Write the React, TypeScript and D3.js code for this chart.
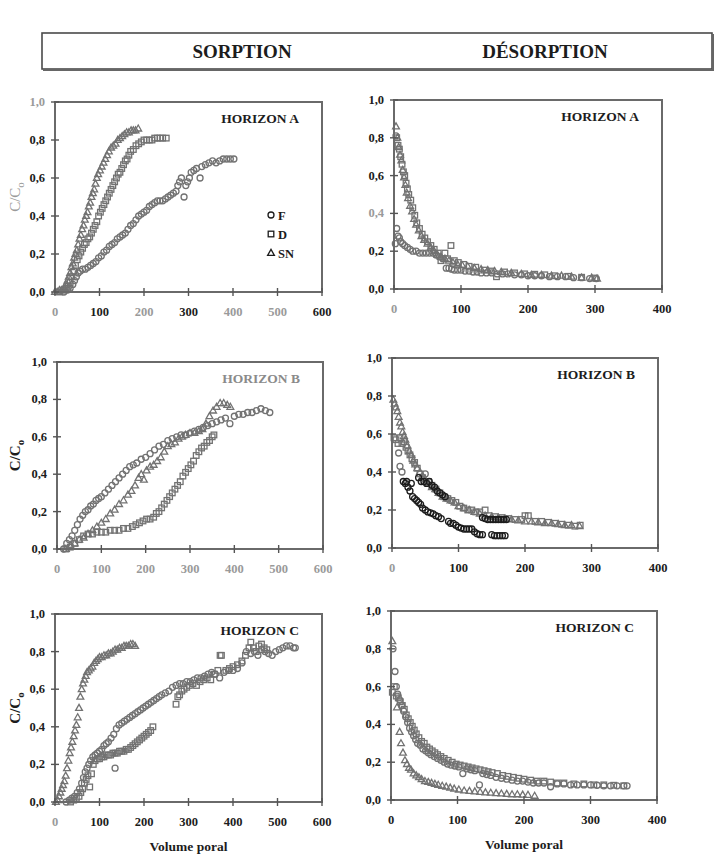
import React from "react";
import * as d3 from "d3";

type Pt = [number, number];

// x = volume poral, y = C/C0

// ---- SORPTION, horizon A ----
const sorpA_F: Pt[] = [[20,0],[28,0.01],[34,0.02],[40,0.04],[44,0.06],[48,0.08],[52,0.1],[57,0.11],[62,0.12],[68,0.12],[74,0.13],[80,0.14],[86,0.15],[92,0.16],[98,0.18],[104,0.19],[110,0.21],[116,0.22],[122,0.24],[128,0.25],[134,0.26],[140,0.28],[146,0.29],[152,0.3],[158,0.31],[164,0.33],[170,0.35],[176,0.36],[182,0.38],[188,0.4],[194,0.41],[200,0.42],[206,0.43],[212,0.45],[218,0.46],[224,0.47],[230,0.48],[236,0.48],[242,0.48],[248,0.49],[254,0.5],[260,0.51],[266,0.52],[272,0.53],[276,0.56],[280,0.58],[284,0.6],[290,0.5],[294,0.56],[298,0.58],[302,0.6],[306,0.63],[312,0.64],[318,0.65],[326,0.6],[330,0.66],[338,0.67],[346,0.68],[354,0.69],[362,0.68],[370,0.69],[378,0.7],[386,0.7],[394,0.7],[402,0.7]];
const sorpA_D: Pt[] = [[10,0],[18,0.01],[25,0.02],[30,0.03],[34,0.05],[38,0.08],[42,0.11],[46,0.14],[50,0.17],[54,0.19],[58,0.21],[62,0.23],[66,0.25],[70,0.26],[74,0.28],[78,0.29],[82,0.31],[86,0.33],[90,0.35],[94,0.37],[98,0.4],[102,0.42],[106,0.44],[110,0.46],[114,0.48],[118,0.5],[122,0.52],[126,0.54],[130,0.56],[134,0.58],[138,0.6],[142,0.62],[146,0.63],[150,0.65],[154,0.67],[158,0.69],[162,0.7],[166,0.72],[170,0.74],[176,0.75],[182,0.77],[188,0.78],[194,0.79],[200,0.8],[206,0.8],[212,0.8],[218,0.8],[224,0.81],[230,0.81],[236,0.81],[242,0.81],[250,0.81]];
const sorpA_SN: Pt[] = [[0,0],[5,0],[10,0.01],[15,0.01],[20,0.02],[25,0.04],[28,0.06],[31,0.08],[34,0.1],[37,0.13],[40,0.15],[43,0.18],[46,0.2],[49,0.22],[52,0.25],[55,0.28],[58,0.3],[61,0.33],[64,0.35],[67,0.38],[70,0.4],[73,0.42],[76,0.45],[79,0.47],[82,0.5],[85,0.52],[88,0.54],[91,0.57],[94,0.6],[97,0.62],[101,0.64],[105,0.66],[109,0.68],[113,0.7],[117,0.72],[121,0.74],[126,0.76],[131,0.77],[136,0.78],[141,0.8],[146,0.81],[151,0.82],[156,0.83],[161,0.84],[166,0.84],[171,0.85],[176,0.85],[181,0.85],[187,0.86]];

// ---- DESORPTION, horizon A ----
const desA_F: Pt[] = [[2,0.24],[3,0.81],[4,0.32],[6,0.28],[8,0.27],[10,0.25],[13,0.24],[16,0.23],[20,0.22],[24,0.21],[28,0.2],[33,0.2],[38,0.19],[43,0.19],[48,0.19],[53,0.19],[58,0.19],[63,0.18],[68,0.17],[73,0.16],[78,0.11],[82,0.11],[86,0.105],[90,0.1],[95,0.1],[100,0.1],[106,0.095],[112,0.095],[118,0.09],[124,0.09],[130,0.085],[138,0.085],[146,0.085],[154,0.08],[162,0.08],[170,0.08],[180,0.075],[190,0.075],[200,0.07],[210,0.07],[220,0.07],[232,0.065],[244,0.065],[256,0.065],[268,0.06],[280,0.06],[292,0.055],[302,0.055]];
const desA_D: Pt[] = [[4,0.8],[6,0.76],[8,0.74],[10,0.7],[12,0.66],[14,0.62],[16,0.6],[18,0.56],[20,0.53],[22,0.5],[25,0.47],[28,0.43],[31,0.39],[34,0.35],[38,0.32],[42,0.29],[46,0.27],[50,0.25],[55,0.23],[60,0.21],[66,0.19],[70,0.15],[76,0.19],[80,0.16],[85,0.23],[90,0.15],[96,0.14],[104,0.13],[112,0.12],[122,0.115],[135,0.1],[145,0.095],[153,0.065],[165,0.09],[180,0.085],[195,0.08],[210,0.078],[225,0.075],[240,0.07],[260,0.067],[280,0.062],[300,0.058]];
const desA_SN: Pt[] = [[3,0.86],[5,0.8],[7,0.75],[9,0.71],[11,0.68],[13,0.63],[15,0.59],[17,0.55],[19,0.51],[21,0.48],[24,0.44],[27,0.41],[30,0.37],[33,0.34],[37,0.31],[41,0.28],[45,0.26],[50,0.24],[55,0.22],[60,0.2],[65,0.18],[70,0.17],[76,0.16],[82,0.15],[88,0.14],[95,0.13],[102,0.125],[110,0.12],[120,0.11],[130,0.105],[140,0.1],[150,0.095],[160,0.09],[175,0.085],[190,0.08],[205,0.075],[220,0.075],[235,0.07],[250,0.07],[265,0.065],[280,0.06],[295,0.06],[303,0.055]];

// ---- SORPTION, horizon B ----
const sorpB_F: Pt[] = [[15,0],[22,0.03],[28,0.05],[34,0.07],[40,0.1],[46,0.13],[52,0.16],[58,0.18],[64,0.2],[70,0.21],[76,0.23],[82,0.24],[88,0.26],[94,0.27],[100,0.28],[108,0.3],[116,0.32],[124,0.34],[132,0.36],[140,0.38],[148,0.4],[156,0.42],[164,0.44],[172,0.45],[180,0.46],[190,0.48],[200,0.49],[210,0.51],[220,0.53],[230,0.55],[240,0.56],[250,0.58],[260,0.59],[270,0.6],[280,0.61],[290,0.61],[300,0.62],[310,0.63],[320,0.64],[330,0.65],[340,0.66],[350,0.67],[360,0.68],[370,0.69],[380,0.7],[390,0.67],[400,0.71],[410,0.72],[420,0.72],[430,0.73],[440,0.73],[450,0.74],[460,0.75],[470,0.74],[480,0.73]];
const sorpB_D: Pt[] = [[20,0],[30,0.01],[40,0.03],[50,0.05],[60,0.07],[70,0.08],[80,0.08],[90,0.09],[100,0.09],[110,0.09],[120,0.1],[130,0.1],[140,0.1],[150,0.11],[160,0.11],[170,0.12],[178,0.13],[186,0.14],[194,0.15],[202,0.16],[210,0.16],[218,0.17],[224,0.19],[230,0.2],[236,0.22],[242,0.24],[248,0.26],[254,0.28],[260,0.3],[266,0.32],[272,0.34],[278,0.36],[284,0.39],[290,0.41],[296,0.43],[302,0.45],[308,0.47],[314,0.5],[320,0.52],[326,0.54],[332,0.55],[338,0.57],[344,0.58],[350,0.6],[354,0.61]];
const sorpB_SN: Pt[] = [[20,0],[30,0.02],[40,0.03],[50,0.05],[60,0.06],[70,0.08],[80,0.1],[90,0.12],[100,0.14],[110,0.16],[120,0.19],[130,0.21],[140,0.24],[150,0.26],[160,0.29],[168,0.31],[176,0.34],[184,0.38],[190,0.4],[196,0.37],[202,0.42],[210,0.44],[218,0.45],[226,0.47],[234,0.49],[242,0.52],[250,0.55],[258,0.56],[266,0.57],[274,0.59],[282,0.6],[290,0.61],[300,0.62],[310,0.62],[320,0.63],[328,0.64],[336,0.67],[344,0.71],[352,0.74],[360,0.76],[368,0.78],[376,0.78],[384,0.77],[391,0.76]];

// ---- DESORPTION, horizon B ----
const desB_F: Pt[] = [[10,0.5],[12,0.43],[15,0.4],[50,0.39]];
const desB_Fdark: Pt[] = [[17,0.35],[20,0.34],[22,0.35],[24,0.32],[27,0.3],[29,0.34],[31,0.27],[34,0.26],[37,0.25],[40,0.24],[43,0.23],[46,0.21],[50,0.2],[54,0.19],[58,0.185],[62,0.18],[66,0.17],[70,0.165],[74,0.155],[85,0.14],[88,0.13],[92,0.13],[96,0.12],[100,0.11],[104,0.105],[108,0.1],[112,0.1],[116,0.1],[120,0.1],[124,0.085],[128,0.075],[132,0.07],[136,0.07],[150,0.07],[154,0.065],[158,0.065],[162,0.065],[166,0.065],[170,0.065],[40,0.37],[44,0.35],[48,0.35],[52,0.34],[56,0.35],[60,0.33],[64,0.32],[68,0.3],[72,0.29],[76,0.28],[80,0.27],[136,0.16],[140,0.155],[144,0.15],[148,0.15],[152,0.15],[156,0.15],[160,0.15],[164,0.15],[168,0.15],[172,0.15]];
const desB_D: Pt[] = [[3,0.58],[6,0.57],[9,0.55],[12,0.58],[15,0.55],[18,0.56],[21,0.53],[24,0.51],[27,0.49],[30,0.47],[34,0.45],[38,0.42],[42,0.39],[46,0.37],[55,0.35],[60,0.33],[66,0.31],[72,0.29],[78,0.27],[84,0.26],[90,0.25],[96,0.24],[102,0.22],[108,0.21],[114,0.2],[120,0.2],[126,0.19],[132,0.19],[140,0.2],[146,0.17],[155,0.165],[165,0.16],[175,0.155],[185,0.15],[195,0.15],[200,0.17],[205,0.17],[215,0.14],[225,0.14],[235,0.135],[245,0.13],[255,0.125],[265,0.12],[275,0.115],[283,0.12]];
const desB_SN: Pt[] = [[2,0.78],[4,0.76],[6,0.74],[8,0.72],[10,0.69],[12,0.66],[14,0.64],[16,0.61],[18,0.59],[20,0.57],[23,0.54],[26,0.51],[29,0.49],[32,0.46],[35,0.44],[38,0.42],[42,0.4],[46,0.38],[50,0.36],[55,0.34],[60,0.32],[65,0.31],[70,0.29],[76,0.27],[82,0.26],[88,0.25],[94,0.24],[100,0.22],[108,0.21],[116,0.2],[124,0.19],[132,0.18],[140,0.17],[150,0.165],[160,0.16],[170,0.155],[180,0.15],[190,0.145],[200,0.14],[210,0.14],[220,0.135],[230,0.13],[240,0.13],[250,0.125],[260,0.12],[270,0.12],[282,0.115]];

// ---- SORPTION, horizon C ----
const sorpC_F: Pt[] = [[25,0],[32,0.01],[38,0.02],[44,0.03],[50,0.05],[55,0.07],[60,0.1],[64,0.13],[68,0.16],[72,0.18],[76,0.2],[80,0.22],[85,0.24],[90,0.25],[95,0.26],[100,0.27],[105,0.28],[110,0.3],[115,0.31],[120,0.32],[126,0.34],[132,0.36],[135,0.18],[138,0.39],[144,0.41],[150,0.42],[156,0.43],[162,0.44],[168,0.45],[174,0.46],[180,0.47],[186,0.48],[192,0.49],[198,0.5],[204,0.51],[210,0.52],[216,0.53],[222,0.54],[228,0.55],[234,0.56],[240,0.57],[248,0.58],[256,0.59],[264,0.61],[272,0.62],[280,0.63],[288,0.63],[296,0.64],[304,0.64],[312,0.65],[320,0.66],[328,0.66],[336,0.67],[344,0.68],[352,0.69],[360,0.68],[370,0.66],[380,0.69],[390,0.7],[400,0.7],[410,0.71],[420,0.74],[430,0.8],[440,0.79],[448,0.8],[456,0.78],[464,0.81],[472,0.8],[480,0.79],[488,0.78],[496,0.8],[504,0.81],[512,0.82],[520,0.83],[528,0.83],[536,0.82],[540,0.82]];
const sorpC_D: Pt[] = [[35,0],[42,0.01],[48,0.02],[54,0.03],[58,0.05],[62,0.07],[66,0.1],[70,0.12],[74,0.14],[78,0.08],[82,0.15],[86,0.2],[90,0.22],[95,0.23],[100,0.23],[105,0.24],[110,0.24],[115,0.25],[120,0.25],[125,0.25],[130,0.26],[135,0.26],[140,0.26],[145,0.27],[150,0.27],[155,0.27],[160,0.28],[165,0.28],[170,0.29],[175,0.3],[180,0.31],[185,0.32],[190,0.33],[195,0.34],[200,0.35],[205,0.36],[210,0.37],[215,0.38],[220,0.4],[272,0.52],[276,0.56],[280,0.57],[285,0.59],[290,0.6],[296,0.61],[302,0.62],[310,0.63],[318,0.62],[326,0.64],[334,0.65],[342,0.66],[350,0.65],[358,0.68],[366,0.7],[371,0.78],[374,0.78],[384,0.7],[392,0.71],[400,0.72],[410,0.73],[420,0.75],[428,0.78],[436,0.82],[440,0.85],[446,0.82],[452,0.8],[458,0.83],[464,0.84],[470,0.82],[476,0.81]];
const sorpC_SN: Pt[] = [[2,0],[6,0.01],[9,0.03],[12,0.05],[15,0.07],[18,0.09],[21,0.11],[24,0.14],[27,0.18],[30,0.22],[33,0.26],[36,0.29],[39,0.32],[42,0.35],[45,0.38],[48,0.41],[51,0.45],[54,0.5],[57,0.56],[60,0.6],[63,0.63],[66,0.65],[69,0.67],[72,0.69],[76,0.7],[80,0.71],[84,0.72],[88,0.74],[92,0.75],[96,0.76],[100,0.77],[105,0.77],[110,0.78],[115,0.78],[120,0.79],[125,0.79],[130,0.8],[135,0.81],[140,0.81],[145,0.82],[150,0.82],[155,0.83],[160,0.83],[165,0.83],[170,0.84],[175,0.84],[180,0.83]];

// ---- DESORPTION, horizon C ----
const desC_F: Pt[] = [[3,0.8],[6,0.68],[8,0.6],[10,0.56],[13,0.53],[16,0.5],[19,0.47],[22,0.44],[25,0.41],[28,0.38],[31,0.36],[34,0.34],[37,0.32],[40,0.3],[44,0.29],[48,0.27],[52,0.26],[56,0.25],[60,0.24],[65,0.23],[70,0.22],[75,0.21],[80,0.2],[85,0.19],[90,0.185],[96,0.18],[102,0.175],[108,0.14],[114,0.165],[120,0.16],[126,0.155],[133,0.08],[138,0.14],[144,0.135],[150,0.13],[158,0.12],[166,0.115],[174,0.11],[182,0.105],[190,0.1],[198,0.1],[206,0.095],[214,0.09],[222,0.09],[230,0.09],[240,0.07],[250,0.085],[260,0.085],[270,0.08],[280,0.08],[290,0.08],[300,0.08],[310,0.078],[320,0.075],[330,0.075],[340,0.075],[350,0.075],[355,0.075]];
const desC_D: Pt[] = [[2,0.57],[5,0.6],[8,0.55],[11,0.54],[14,0.52],[17,0.5],[20,0.48],[23,0.45],[26,0.43],[29,0.41],[32,0.39],[35,0.37],[38,0.35],[42,0.33],[46,0.31],[50,0.3],[54,0.28],[58,0.27],[62,0.26],[66,0.25],[70,0.24],[75,0.23],[80,0.22],[86,0.21],[92,0.2],[98,0.19],[104,0.185],[110,0.18],[116,0.175],[122,0.17],[128,0.165],[134,0.16],[140,0.155],[146,0.15],[152,0.145],[160,0.14],[168,0.13],[176,0.125],[184,0.12],[192,0.115],[200,0.11],[210,0.105],[220,0.1],[230,0.1],[240,0.095],[250,0.09],[260,0.09],[275,0.085],[290,0.085],[305,0.08],[320,0.08],[335,0.078],[350,0.075]];
const desC_SN: Pt[] = [[2,0.84],[9,0.49],[13,0.36],[15,0.3],[18,0.25],[21,0.21],[24,0.19],[27,0.17],[30,0.16],[34,0.14],[38,0.13],[42,0.12],[46,0.11],[51,0.1],[56,0.095],[61,0.09],[66,0.085],[71,0.08],[77,0.075],[83,0.07],[89,0.065],[95,0.06],[102,0.055],[110,0.05],[118,0.048],[126,0.045],[134,0.042],[142,0.04],[150,0.038],[158,0.036],[166,0.034],[174,0.032],[182,0.03],[190,0.03],[198,0.028],[206,0.027],[216,0.022]];

// ---- ticks / labels ----
const yTicks = [0, 0.2, 0.4, 0.6, 0.8, 1.0];
const xTicksSorp = [0, 100, 200, 300, 400, 500, 600];
const xTicksDes = [0, 100, 200, 300, 400];
const legendNames = ["F", "D", "SN"];
const columnTitles = ["SORPTION", "DÉSORPTION"];
const xTitle = "Volume poral";

type Shape = "circle" | "square" | "triangle";
const GRAY = "#727272";
const DARK = "#1c1c1c";
const FADED = "#9a9a9a";
const FONT = "'Liberation Serif', 'DejaVu Serif', serif";

interface PanelCfg {
  title: string;
  box: [number, number, number, number]; // left, top, right, bottom
  xMax: number;
  xTicks: number[];
  series: { data: Pt[]; shape: Shape; dark?: boolean }[];
  fadedX: number[];
  fadedY: number[];
  titleFaded?: boolean;
  yLabel: "dark" | "faded" | null;
  legend?: boolean;
  xTitle?: boolean;
}

const panels: PanelCfg[] = [
  {
    title: "HORIZON A", box: [55, 102, 322, 292], xMax: 600, xTicks: xTicksSorp,
    series: [{ data: sorpA_F, shape: "circle" }, { data: sorpA_D, shape: "square" }, { data: sorpA_SN, shape: "triangle" }],
    fadedX: [0, 200, 400, 500], fadedY: [1], yLabel: "faded", legend: true,
  },
  {
    title: "HORIZON A", box: [394, 100, 662, 289], xMax: 400, xTicks: xTicksDes,
    series: [{ data: desA_F, shape: "circle" }, { data: desA_D, shape: "square" }, { data: desA_SN, shape: "triangle" }],
    fadedX: [0], fadedY: [0.4], yLabel: null,
  },
  {
    title: "HORIZON B", box: [57, 362, 323, 549], xMax: 600, xTicks: xTicksSorp,
    series: [{ data: sorpB_F, shape: "circle" }, { data: sorpB_D, shape: "square" }, { data: sorpB_SN, shape: "triangle" }],
    fadedX: xTicksSorp, fadedY: [], titleFaded: true, yLabel: "dark",
  },
  {
    title: "HORIZON B", box: [392, 358, 658, 548], xMax: 400, xTicks: xTicksDes,
    series: [{ data: desB_SN, shape: "triangle" }, { data: desB_D, shape: "square" }, { data: desB_F, shape: "circle" }, { data: desB_Fdark, shape: "circle", dark: true }],
    fadedX: [0], fadedY: [], yLabel: null,
  },
  {
    title: "HORIZON C", box: [55, 614, 322, 802], xMax: 600, xTicks: xTicksSorp,
    series: [{ data: sorpC_F, shape: "circle" }, { data: sorpC_D, shape: "square" }, { data: sorpC_SN, shape: "triangle" }],
    fadedX: [0], fadedY: [], yLabel: "dark", xTitle: true,
  },
  {
    title: "HORIZON C", box: [391, 611, 657, 800], xMax: 400, xTicks: xTicksDes,
    series: [{ data: desC_F, shape: "circle" }, { data: desC_D, shape: "square" }, { data: desC_SN, shape: "triangle" }],
    fadedX: [], fadedY: [], yLabel: null, xTitle: true,
  },
];

const Marker: React.FC<{ shape: Shape; x: number; y: number; color: string }> = ({ shape, x, y, color }) => {
  const common = { fill: "none", stroke: color, strokeWidth: 1.3 };
  if (shape === "circle") return <circle cx={x} cy={y} r={3} {...common} />;
  if (shape === "square") return <rect x={x - 2.8} y={y - 2.8} width={5.6} height={5.6} {...common} />;
  return <path d={`M${x},${y - 3.6}L${x + 3.4},${y + 2.4}L${x - 3.4},${y + 2.4}Z`} {...common} />;
};

const fmtY = (v: number) => d3.format(".1f")(v).replace(".", ",");

const Panel: React.FC<{ cfg: PanelCfg }> = ({ cfg }) => {
  const [l, t, r, b] = cfg.box;
  const x = d3.scaleLinear().domain([0, cfg.xMax]).range([l, r]);
  const y = d3.scaleLinear().domain([0, 1]).range([b, t]);
  const midY = (t + b) / 2;
  return (
    <g>
      {cfg.series.map((s, i) => (
        <g key={i}>
          {s.data.map((d, j) => (
            <Marker key={j} shape={s.shape} x={x(d[0])} y={y(d[1])} color={s.dark ? DARK : GRAY} />
          ))}
        </g>
      ))}
      <rect x={l} y={t} width={r - l} height={b - t} fill="none" stroke="#6a6a6a" strokeWidth={2} />
      {yTicks.map((v) => (
        <g key={`y${v}`}>
          <line x1={l - 4} x2={l + 4} y1={y(v)} y2={y(v)} stroke="#555" strokeWidth={1.4} />
          <text
            x={l - 10}
            y={y(v) + 4}
            textAnchor="end"
            fontSize={12.5}
            fontWeight="bold"
            fill={cfg.fadedY.includes(v) ? FADED : DARK}
          >
            {fmtY(v)}
          </text>
        </g>
      ))}
      {cfg.xTicks.map((v) => (
        <g key={`x${v}`}>
          <line x1={x(v)} x2={x(v)} y1={b - 4} y2={b + 4} stroke="#555" strokeWidth={1.4} />
          <text
            x={x(v)}
            y={b + 24}
            textAnchor="middle"
            fontSize={12.5}
            fontWeight="bold"
            fill={cfg.fadedX.includes(v) ? FADED : DARK}
          >
            {v}
          </text>
        </g>
      ))}
      <text
        x={r - 23}
        y={t + 20.5}
        textAnchor="end"
        fontSize={13.5}
        fontWeight="bold"
        fill={cfg.titleFaded ? "#8a8a8a" : DARK}
      >
        {cfg.title}
      </text>
      {cfg.yLabel && (
        <text
          transform={`translate(20,${midY}) rotate(-90)`}
          textAnchor="middle"
          fontSize={15}
          fontWeight={cfg.yLabel === "dark" ? "bold" : "normal"}
          fill={cfg.yLabel === "dark" ? DARK : FADED}
        >
          C/C<tspan fontSize={11} dy={4}>o</tspan>
        </text>
      )}
      {cfg.legend &&
        legendNames.map((n, i) => {
          const shape: Shape = (["circle", "square", "triangle"] as Shape[])[i];
          const ly = 215 + i * 19;
          return (
            <g key={n}>
              <Marker shape={shape} x={271} y={ly} color={DARK} />
              <text x={278} y={ly + 4.5} fontSize={12.5} fontWeight="bold" fill={DARK}>
                {n}
              </text>
            </g>
          );
        })}
      {cfg.xTitle && (
        <text x={(l + r) / 2} y={b + 49} textAnchor="middle" fontSize={13.5} fontWeight="bold" fill={DARK}>
          {xTitle}
        </text>
      )}
    </g>
  );
};

export default function App() {
  return (
    <svg
      width={720}
      height={866}
      style={{ position: "absolute", left: 0, top: 0, background: "#fff", fontFamily: FONT }}
    >
      <rect x={0} y={0} width={720} height={866} fill="#fff" />
      {/* header band */}
      <rect x={42} y={33} width={670} height={36} fill="#fff" stroke="#4a4a4a" strokeWidth={1.6} />
      <line x1={43} x2={713} y1={70} y2={70} stroke="#666" strokeWidth={2} />
      <line x1={713} x2={713} y1={34} y2={71} stroke="#666" strokeWidth={2} />
      <text x={242} y={58} textAnchor="middle" fontSize={19} fontWeight="bold" fill={DARK}>
        {columnTitles[0]}
      </text>
      <text x={545} y={58} textAnchor="middle" fontSize={19} fontWeight="bold" fill={DARK}>
        {columnTitles[1]}
      </text>
      {panels.map((p, i) => (
        <Panel key={i} cfg={p} />
      ))}
    </svg>
  );
}
